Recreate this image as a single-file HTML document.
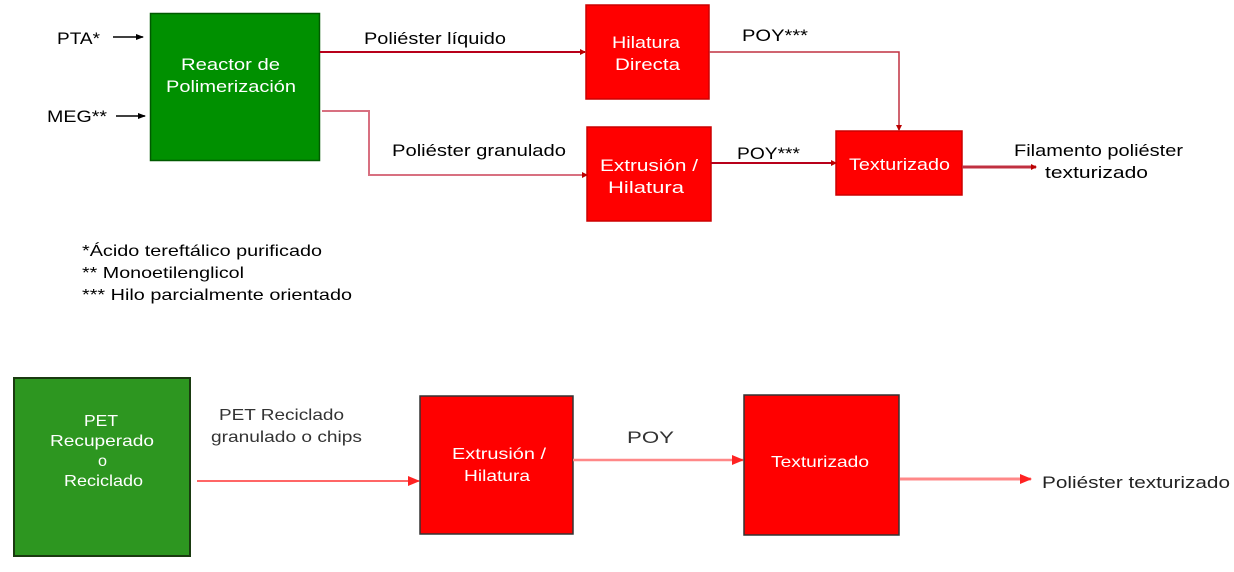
<!DOCTYPE html>
<html><head><meta charset="utf-8"><style>
body{margin:0;background:#fff;width:1234px;height:567px;overflow:hidden}
svg text{font-family:"Liberation Sans",sans-serif}
</style></head><body>
<svg width="1234" height="567" viewBox="0 0 1234 567" xmlns="http://www.w3.org/2000/svg">
<defs>
<marker id="ak" markerWidth="8" markerHeight="8" refX="7" refY="4" orient="auto" markerUnits="userSpaceOnUse"><path d="M0,1 L8,4 L0,7z" fill="#000"/></marker>
<marker id="ad" markerWidth="6" markerHeight="6" refX="5" refY="3" orient="auto" markerUnits="userSpaceOnUse"><path d="M0,0 L6,3 L0,6z" fill="#b00"/></marker>
<marker id="ar" markerWidth="12" markerHeight="10" refX="11" refY="5" orient="auto" markerUnits="userSpaceOnUse"><path d="M0,0 L12,5 L0,10z" fill="#f22"/></marker>
</defs>
<g lengthAdjust="spacingAndGlyphs">
<text x="57" y="44" font-size="17" textLength="43" lengthAdjust="spacingAndGlyphs">PTA*</text>
<line x1="113" y1="37" x2="143" y2="37" stroke="#000" stroke-width="1.5" marker-end="url(#ak)"/>
<text x="47" y="122" font-size="17" textLength="60" lengthAdjust="spacingAndGlyphs">MEG**</text>
<line x1="116" y1="116" x2="145" y2="116" stroke="#000" stroke-width="1.5" marker-end="url(#ak)"/>
<rect x="150.5" y="13.5" width="169" height="147" fill="#009000" stroke="#005a00" stroke-width="1.5"/>
<text x="181" y="70" font-size="17" fill="#fff" textLength="99" lengthAdjust="spacingAndGlyphs">Reactor de</text>
<text x="166" y="92" font-size="17" fill="#fff" textLength="130" lengthAdjust="spacingAndGlyphs">Polimerización</text>
<line x1="320" y1="52" x2="585" y2="52" stroke="#b8001a" stroke-width="2" marker-end="url(#ad)"/>
<text x="364" y="44" font-size="17" textLength="142" lengthAdjust="spacingAndGlyphs">Poliéster líquido</text>
<polyline points="322,111 369,111 369,175 587,175" fill="none" stroke="#d87080" stroke-width="2" marker-end="url(#ad)"/>
<text x="392" y="156" font-size="17" textLength="174" lengthAdjust="spacingAndGlyphs">Poliéster granulado</text>
<rect x="586" y="5" width="123" height="94" fill="#f00" stroke="#c00" stroke-width="1.5"/>
<text x="612" y="48" font-size="17" fill="#fff" textLength="68" lengthAdjust="spacingAndGlyphs">Hilatura</text>
<text x="615" y="70" font-size="17" fill="#fff" textLength="65" lengthAdjust="spacingAndGlyphs">Directa</text>
<rect x="587" y="127" width="124" height="94" fill="#f00" stroke="#c00" stroke-width="1.5"/>
<text x="600" y="171" font-size="17" fill="#fff" textLength="98" lengthAdjust="spacingAndGlyphs">Extrusión /</text>
<text x="608" y="193" font-size="17" fill="#fff" textLength="76" lengthAdjust="spacingAndGlyphs">Hilatura</text>
<polyline points="709,52 899,52 899,130" fill="none" stroke="#c03040" stroke-width="1.5" marker-end="url(#ad)"/>
<text x="742" y="41" font-size="17" textLength="66" lengthAdjust="spacingAndGlyphs">POY***</text>
<line x1="711" y1="163" x2="836" y2="163" stroke="#b8001a" stroke-width="2" marker-end="url(#ad)"/>
<text x="737" y="159" font-size="17" textLength="63" lengthAdjust="spacingAndGlyphs">POY***</text>
<rect x="836" y="131" width="126" height="64" fill="#f00" stroke="#c00" stroke-width="1.5"/>
<text x="849" y="170" font-size="17" fill="#fff" textLength="101" lengthAdjust="spacingAndGlyphs">Texturizado</text>
<line x1="962" y1="167" x2="1036" y2="167" stroke="#c03040" stroke-width="3" marker-end="url(#ad)"/>
<text x="1014" y="156" font-size="17" textLength="169" lengthAdjust="spacingAndGlyphs">Filamento poliéster</text>
<text x="1045" y="178" font-size="17" textLength="103" lengthAdjust="spacingAndGlyphs">texturizado</text>
<text x="82" y="256" font-size="16" textLength="240" lengthAdjust="spacingAndGlyphs">*Ácido tereftálico purificado</text>
<text x="82" y="278" font-size="16" textLength="162" lengthAdjust="spacingAndGlyphs">** Monoetilenglicol</text>
<text x="82" y="300" font-size="16" textLength="270" lengthAdjust="spacingAndGlyphs">*** Hilo parcialmente orientado</text>
<!-- bottom -->
<rect x="14" y="378" width="176" height="178" fill="#2d9620" stroke="#1a3a10" stroke-width="2"/>
<text x="84" y="426" font-size="16" fill="#fff" textLength="34" lengthAdjust="spacingAndGlyphs">PET</text>
<text x="50" y="446" font-size="16" fill="#fff" textLength="104" lengthAdjust="spacingAndGlyphs">Recuperado</text>
<text x="98" y="466" font-size="16" fill="#fff" textLength="9" lengthAdjust="spacingAndGlyphs">o</text>
<text x="64" y="486" font-size="16" fill="#fff" textLength="79" lengthAdjust="spacingAndGlyphs">Reciclado</text>
<text x="219" y="420" font-size="16" fill="#333" textLength="125" lengthAdjust="spacingAndGlyphs">PET Reciclado</text>
<text x="211" y="442" font-size="16" fill="#333" textLength="151" lengthAdjust="spacingAndGlyphs">granulado o chips</text>
<line x1="197" y1="481" x2="419" y2="481" stroke="#f33" stroke-width="1.5" marker-end="url(#ar)"/>
<rect x="420" y="396" width="153" height="138" fill="#f00" stroke="#333" stroke-width="1.5"/>
<text x="452" y="459" font-size="16" fill="#fff" textLength="94" lengthAdjust="spacingAndGlyphs">Extrusión /</text>
<text x="464" y="481" font-size="16" fill="#fff" textLength="66" lengthAdjust="spacingAndGlyphs">Hilatura</text>
<line x1="573" y1="460" x2="743" y2="460" stroke="#f88" stroke-width="2.5" marker-end="url(#ar)"/>
<text x="627" y="443" font-size="17" fill="#333" textLength="47" lengthAdjust="spacingAndGlyphs">POY</text>
<rect x="744" y="395" width="155" height="140" fill="#f00" stroke="#333" stroke-width="1.5"/>
<text x="771" y="467" font-size="16" fill="#fff" textLength="98" lengthAdjust="spacingAndGlyphs">Texturizado</text>
<line x1="900" y1="479" x2="1031" y2="479" stroke="#f88" stroke-width="3" marker-end="url(#ar)"/>
<text x="1042" y="488" font-size="17" fill="#222" textLength="188" lengthAdjust="spacingAndGlyphs">Poliéster texturizado</text>
</g>
</svg>
</body></html>
